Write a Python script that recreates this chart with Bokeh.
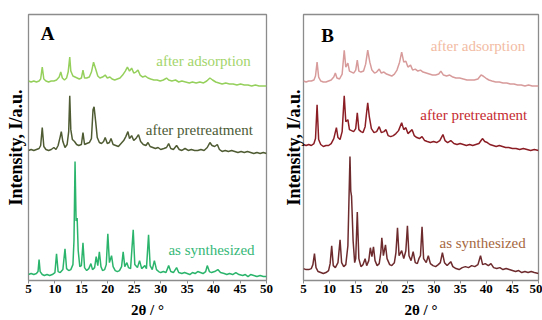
from bokeh.plotting import figure
from bokeh.models import Label, FixedTicker, Range1d
from bokeh.layouts import row
from bokeh.embed import file_html
from bokeh.resources import INLINE

# ---------------- data (2theta in degrees, intensity in arbitrary offset units) -------------
x_ticks = [5, 10, 15, 20, 25, 30, 35, 40, 45, 50]

# Panel A
a_syn_x = [5.0, 5.5, 6.0, 6.5, 6.8, 7.0, 7.2, 7.6, 8.0, 8.5, 9.0, 9.5, 10.0, 10.3, 10.6, 11.0, 11.5, 11.9,
           12.2, 12.6, 13.0, 13.4, 13.6, 13.8, 14.0, 14.2, 14.4, 14.7, 15.0, 15.3, 15.6, 16.0, 16.4, 16.8,
           17.1, 17.5, 17.8, 18.1, 18.4, 18.7, 19.0, 19.4, 19.7, 20.0, 20.3, 20.7, 21.0, 21.4, 21.8, 22.2,
           22.6, 22.9, 23.2, 23.6, 23.9, 24.3, 24.8, 25.1, 25.6, 26.0, 26.4, 27.0, 27.3, 27.7, 28.0, 28.4,
           28.8, 29.2, 29.6, 30.0, 30.5, 31.0, 31.5, 31.9, 32.4, 33.0, 33.4, 34.0, 34.5, 35.0, 35.5, 36.0,
           36.5, 37.0, 37.5, 38.0, 38.5, 38.8, 39.2, 39.6, 40.2, 40.8, 41.3, 42.0, 42.5, 43.0, 43.6, 44.2,
           44.8, 45.5, 46.0, 46.5, 47.0, 47.6, 48.2, 48.8, 49.4, 50.0]
a_syn_y = [6, 7, 6, 7, 9, 21, 9, 6, 5, 6, 5, 6, 8, 27, 9, 8, 11, 32,
           12, 10, 11, 16, 40, 120, 60, 63, 30, 14, 15, 38, 13, 10, 12, 17,
           11, 13, 24, 15, 29, 14, 10, 11, 16, 47, 18, 25, 14, 10, 9, 10,
           14, 29, 14, 18, 13, 12, 51, 16, 13, 20, 12, 15, 12, 46, 15, 11,
           20, 11, 9, 8, 9, 8, 15, 9, 8, 13, 8, 7, 8, 7, 6, 8,
           7, 9, 8, 7, 9, 15, 9, 8, 9, 11, 8, 7, 6, 7, 6, 8,
           6, 5, 6, 4, 6, 5, 4, 5, 4, 4]

a_pre_x = [5.0, 5.5, 6.0, 6.5, 7.0, 7.3, 7.6, 7.9, 8.3, 8.8, 9.3, 9.8, 10.2, 10.6, 11.0, 11.2, 11.5, 11.9,
           12.3, 12.6, 12.8, 13.0, 13.3, 13.7, 14.1, 14.5, 15.0, 15.3, 15.6, 16.0, 16.5, 16.9, 17.2, 17.4,
           17.7, 18.0, 18.4, 18.8, 19.2, 19.5, 19.9, 20.3, 20.6, 21.0, 21.5, 22.0, 22.5, 23.0, 23.4, 23.8,
           24.1, 24.5, 24.9, 25.3, 25.8, 26.2, 26.7, 27.2, 27.6, 28.0, 28.5, 29.0, 29.5, 30.0, 30.6, 31.1,
           31.5, 31.9, 32.4, 33.0, 33.5, 34.0, 34.6, 35.2, 35.8, 36.4, 37.0, 37.6, 38.2, 38.8, 39.3, 39.7,
           40.2, 40.7, 41.1, 41.6, 42.2, 42.8, 43.4, 44.0, 44.6, 45.2, 45.8, 46.4, 47.0, 47.6, 48.2, 48.8,
           49.4, 50.0]
a_pre_y = [131, 132, 131, 132, 133, 136, 154, 135, 132, 131, 132, 134, 132, 136, 145, 150, 140, 134,
           137, 150, 186, 152, 142, 140, 137, 136, 137, 149, 137, 138, 139, 143, 172, 175,
           160, 144, 139, 138, 140, 144, 138, 139, 143, 137, 136, 135, 138, 141, 145, 150,
           143, 146, 141, 143, 147, 140, 137, 136, 139, 135, 134, 133, 134, 132, 133, 134,
           138, 133, 132, 136, 132, 131, 133, 131, 132, 131, 131, 132, 131, 134, 139, 136,
           135, 137, 132, 130, 131, 130, 131, 130, 129, 130, 129, 130, 129, 128, 129, 128,
           129, 128]

a_ads_x = [5.0, 5.5, 6.0, 6.5, 7.0, 7.3, 7.6, 7.9, 8.3, 8.8, 9.3, 9.8, 10.3, 10.8, 11.1, 11.4, 11.8, 12.2,
           12.5, 12.8, 13.0, 13.4, 13.8, 14.2, 14.6, 15.0, 15.3, 15.6, 16.0, 16.5, 16.9, 17.3, 17.7, 18.1,
           18.5, 19.0, 19.5, 19.9, 20.4, 20.8, 21.3, 21.8, 22.3, 22.8, 23.3, 23.7, 24.1, 24.5, 24.9, 25.3,
           25.7, 26.1, 26.6, 27.1, 27.6, 28.1, 28.7, 29.3, 29.9, 30.5, 31.1, 31.5, 32.1, 32.8, 33.4, 34.0,
           34.7, 35.4, 36.0, 36.7, 37.4, 38.1, 38.7, 39.3, 39.8, 40.4, 41.0, 41.6, 42.3, 43.0, 43.7, 44.4,
           45.1, 45.8, 46.5, 47.2, 47.9, 48.6, 49.3, 50.0]
a_ads_y = [201, 200, 201, 200, 201, 203, 215, 203, 201, 200, 201, 201, 202, 205, 210, 204, 202, 204,
           210, 225, 211, 206, 205, 204, 203, 204, 212, 204, 204, 205, 210, 220, 213, 206,
           204, 205, 207, 204, 205, 203, 202, 203, 204, 207, 211, 215, 211, 214, 209, 210,
           212, 207, 205, 206, 204, 203, 202, 202, 201, 202, 204, 202, 201, 202, 200, 201,
           200, 199, 200, 199, 200, 199, 201, 204, 202, 200, 199, 198, 199, 198, 198, 197,
           198, 197, 197, 196, 197, 196, 196, 196]

# Panel B
b_syn_x = [5.0, 5.5, 6.0, 6.5, 6.8, 7.1, 7.4, 7.8, 8.3, 8.8, 9.3, 9.8, 10.1, 10.4, 10.7, 11.1, 11.6, 12.0,
           12.3, 12.7, 13.1, 13.5, 13.9, 14.05, 14.2, 14.5, 14.8, 15.0, 15.3, 15.6, 16.0, 16.4, 16.8, 17.1,
           17.5, 17.8, 18.1, 18.4, 18.7, 19.1, 19.5, 19.8, 20.0, 20.3, 20.7, 21.0, 21.5, 21.9, 22.4, 22.7,
           23.0, 23.3, 23.8, 24.2, 24.6, 24.9, 25.2, 25.6, 26.0, 26.4, 26.8, 27.1, 27.4, 27.7, 28.0, 28.5,
           28.9, 29.3, 29.8, 30.3, 30.8, 31.2, 31.6, 32.0, 32.5, 33.2, 33.6, 34.2, 34.8, 35.4, 36.0, 36.6,
           37.2, 37.8, 38.4, 38.9, 39.3, 39.8, 40.4, 40.9, 41.4, 42.0, 42.6, 43.2, 43.8, 44.4, 45.0, 45.6,
           46.2, 46.8, 47.4, 48.0, 48.6, 49.2, 50.0]
b_syn_y = [12, 11, 11, 12, 16, 27, 13, 9, 8, 7, 8, 10, 17, 35, 15, 13, 18, 41,
           18, 14, 16, 35, 125, 90, 85, 40, 18, 22, 69, 22, 14, 16, 22, 15,
           20, 33, 24, 34, 20, 15, 17, 28, 43, 25, 36, 22, 16, 15, 18, 28,
           53, 25, 30, 22, 30, 55, 25, 20, 29, 18, 17, 22, 25, 54, 22, 18,
           25, 17, 15, 14, 16, 18, 28, 18, 15, 19, 14, 12, 11, 13, 14, 13,
           15, 14, 16, 25, 16, 17, 15, 17, 13, 12, 13, 11, 12, 11, 10, 9,
           10, 8, 9, 8, 9, 8, 7]

b_pre_x = [5.0, 5.5, 6.0, 6.5, 7.0, 7.3, 7.6, 7.9, 8.3, 8.8, 9.3, 9.8, 10.3, 10.8, 11.3, 11.6, 12.0, 12.4,
           12.8, 13.1, 13.5, 13.8, 14.2, 14.6, 15.0, 15.3, 15.6, 16.0, 16.4, 16.8, 17.1, 17.3, 17.6, 18.0,
           18.5, 19.0, 19.5, 19.9, 20.4, 20.8, 21.2, 21.7, 22.2, 22.7, 23.2, 23.8, 24.2, 24.6, 25.0, 25.4,
           25.8, 26.2, 26.7, 27.2, 27.7, 28.2, 28.7, 29.3, 29.9, 30.5, 31.1, 31.7, 32.1, 32.6, 33.2, 33.8,
           34.4, 35.0, 35.6, 36.2, 36.8, 37.4, 38.0, 38.6, 39.0, 39.3, 39.7, 40.2, 40.7, 41.3, 41.9, 42.5,
           43.1, 43.7, 44.3, 45.0, 45.7, 46.4, 47.1, 47.8, 48.5, 49.2, 50.0]
b_pre_y = [137, 136, 137, 136, 138, 143, 177, 142, 137, 135, 136, 136, 138, 143, 154, 144, 142, 150,
           186, 160, 162, 152, 151, 150, 153, 169, 152, 150, 149, 155, 170, 179, 165, 153,
           149, 150, 155, 149, 150, 152, 146, 145, 146, 148, 151, 159, 152, 154, 148, 150,
           152, 146, 144, 143, 145, 141, 140, 139, 140, 139, 141, 147, 141, 139, 141, 138,
           137, 138, 137, 136, 137, 136, 137, 138, 141, 143, 140, 139, 137, 136, 135, 136,
           135, 134, 134, 133, 133, 132, 133, 132, 131, 132, 131]

b_ads_x = [5.0, 5.5, 6.0, 6.5, 7.0, 7.3, 7.6, 7.9, 8.3, 8.8, 9.3, 9.8, 10.3, 10.8, 11.1, 11.4, 11.9, 12.4,
           12.8, 13.1, 13.5, 13.8, 14.2, 14.6, 15.0, 15.3, 15.6, 16.0, 16.5, 16.9, 17.3, 17.7, 18.1, 18.6,
           19.0, 19.5, 19.9, 20.4, 20.9, 21.4, 21.9, 22.4, 22.9, 23.4, 23.8, 24.2, 24.6, 25.0, 25.5, 25.9,
           26.4, 26.9, 27.4, 27.9, 28.5, 29.1, 29.7, 30.3, 30.9, 31.3, 31.8, 32.4, 33.0, 33.6, 34.2, 34.9,
           35.6, 36.3, 37.0, 37.7, 38.4, 39.0, 39.4, 39.9, 40.5, 41.1, 41.8, 42.5, 43.2, 43.9, 44.6, 45.3,
           46.0, 46.7, 47.4, 48.1, 48.8, 49.5, 50.0]
b_ads_y = [201, 200, 201, 201, 202, 206, 220, 205, 201, 200, 200, 201, 202, 205, 209, 204, 203, 208,
           232, 215, 219, 211, 210, 209, 212, 222, 211, 210, 211, 218, 232, 220, 212, 209,
           210, 213, 209, 210, 208, 207, 206, 208, 212, 220, 230, 220, 221, 215, 217, 212,
           213, 211, 212, 210, 209, 208, 207, 207, 208, 211, 207, 206, 207, 205, 204, 204,
           203, 202, 202, 202, 203, 207, 206, 204, 202, 201, 200, 200, 199, 199, 198, 198,
           197, 197, 196, 197, 196, 196, 196]

SERIF = "Liberation Serif"
GRAY = "#8c8c8c"


def make_panel(width, border_left, border_right, ylabel_standoff, traces, labels, letter, letter_xy):
    p = figure(width=width, height=320, output_backend="svg", toolbar_location=None,
               x_range=Range1d(5, 50), y_range=Range1d(0, 268),
               min_border_left=border_left, min_border_right=border_right,
               min_border_top=14, min_border_bottom=38)
    p.background_fill_color = "white"
    p.border_fill_color = "white"
    p.outline_line_color = GRAY
    p.outline_line_width = 1.3
    p.xgrid.visible = False
    p.ygrid.visible = False

    xa = p.xaxis[0]
    xa.ticker = FixedTicker(ticks=x_ticks)
    xa.axis_line_color = None
    xa.major_tick_line_color = GRAY
    xa.major_tick_out = 3
    xa.major_tick_in = 0
    xa.minor_tick_line_color = None
    xa.major_label_standoff = 1
    xa.major_label_text_font = SERIF
    xa.major_label_text_font_style = "bold"
    xa.major_label_text_font_size = "13px"
    xa.major_label_text_color = "black"
    xa.axis_label = "2θ / °"
    xa.axis_label_standoff = 6
    xa.axis_label_text_font = SERIF
    xa.axis_label_text_font_style = "bold"
    xa.axis_label_text_font_size = "15px"
    xa.axis_label_text_color = "black"

    ya = p.yaxis[0]
    ya.ticker = FixedTicker(ticks=[])
    ya.axis_line_color = None
    ya.major_tick_out = 0
    ya.major_tick_in = 0
    ya.minor_tick_out = 0
    ya.minor_tick_in = 0
    ya.major_label_standoff = 0
    ya.axis_label = "Intensity, I/a.u."
    ya.axis_label_standoff = ylabel_standoff
    ya.axis_label_text_font = SERIF
    ya.axis_label_text_font_style = "bold"
    ya.axis_label_text_font_size = "18px"
    ya.axis_label_text_color = "black"

    for xs, ys, color in traces:
        p.line(xs, ys, line_color=color, line_width=1.5)

    for (lx, ly, txt, col) in labels:
        p.add_layout(Label(x=lx, y=ly, text=txt, text_font=SERIF, text_font_size="15px",
                           text_color=col, text_align="center", text_baseline="middle"))

    p.add_layout(Label(x=letter_xy[0], y=letter_xy[1], text=letter, text_font=SERIF,
                       text_font_style="bold", text_font_size="19px", text_color="black",
                       text_align="center", text_baseline="middle"))
    return p


pA = make_panel(
    280, 28, 14, 3,
    [(a_ads_x, a_ads_y, "#95d05c"),
     (a_pre_x, a_pre_y, "#4f5c33"),
     (a_syn_x, a_syn_y, "#2bb56c")],
    [(38.1, 221, "after adsorption", "#a3d56b"),
     (37.3, 152, "after pretreatment", "#4c5b36"),
     (39.6, 31, "as synthesized", "#35b878")],
    "A", (8.6, 249))

pB = make_panel(
    262, 21, 4, 0,
    [(b_ads_x, b_ads_y, "#d89b9b"),
     (b_pre_x, b_pre_y, "#8b1d25"),
     (b_syn_x, b_syn_y, "#6e2b2e")],
    [(38.4, 236, "after adsorption", "#f2bba3"),
     (37.6, 167, "after pretreatment", "#c52a30"),
     (39.3, 38, "as synthesized", "#a6683f")],
    "B", (9.6, 247))

layout = row(pA, pB)
open("out.html", "w").write(file_html(layout, INLINE))
